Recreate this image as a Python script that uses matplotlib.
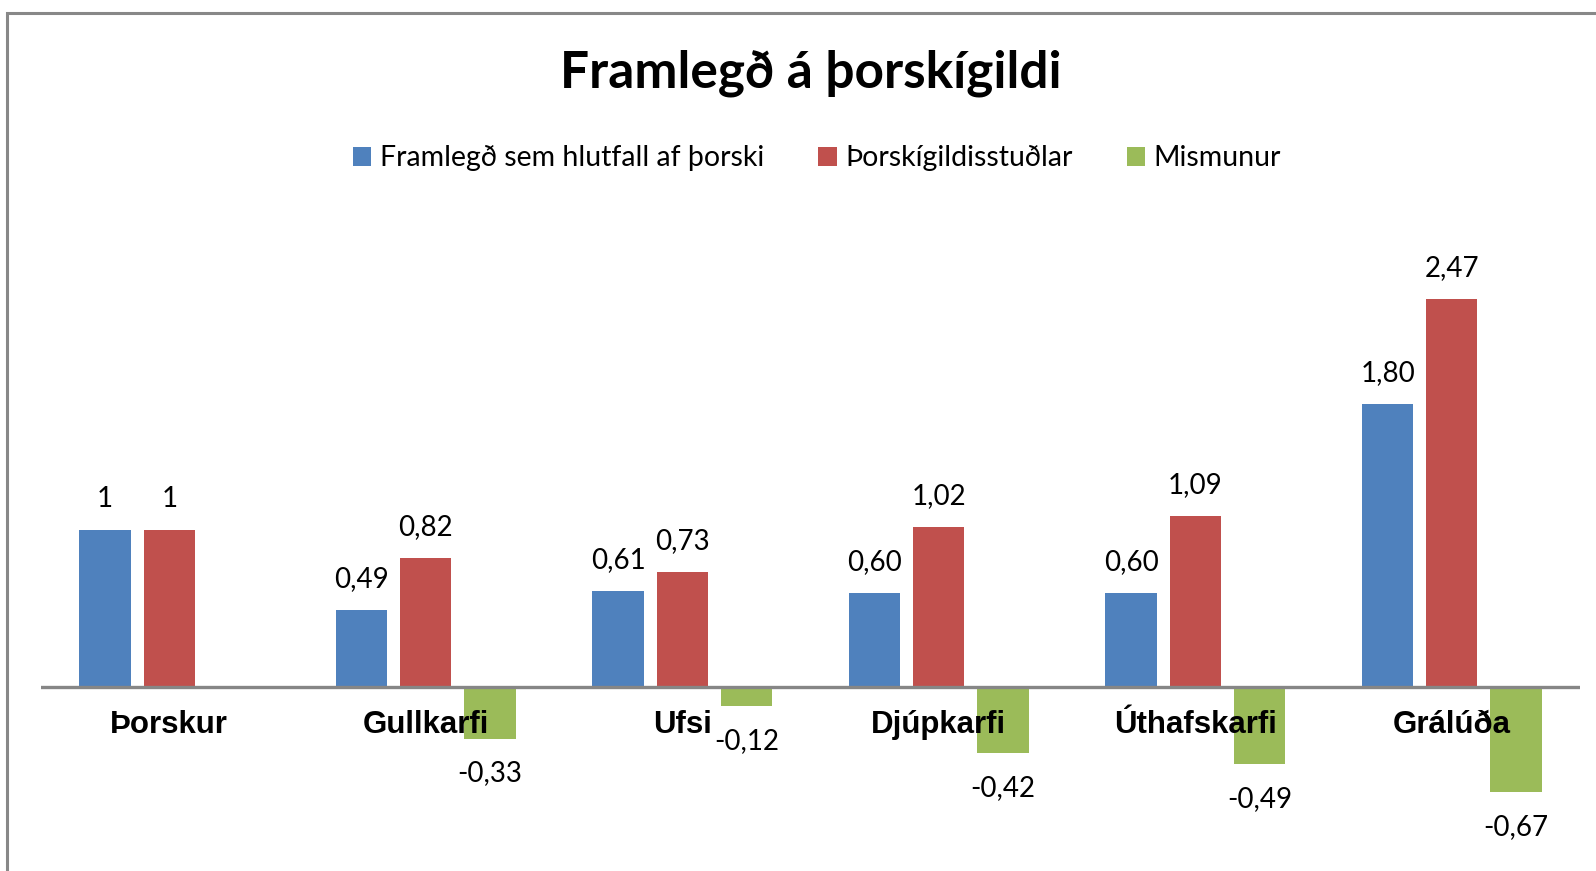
import matplotlib
matplotlib.use("Agg")
import matplotlib.pyplot as plt
import numpy as np
from matplotlib.patches import Patch, Rectangle

categories = ["Þorskur", "Gullkarfi", "Ufsi", "Djúpkarfi", "Úthafskarfi", "Grálúða"]
framlegd = [1.00, 0.49, 0.61, 0.60, 0.60, 1.80]
studlar = [1.00, 0.82, 0.73, 1.02, 1.09, 2.47]
mismunur = [0.00, -0.33, -0.12, -0.42, -0.49, -0.67]
series_names = ["Framlegð sem hlutfall af þorski", "Þorskígildisstuðlar", "Mismunur"]
colors = ["#4F81BD", "#C0504D", "#9BBB59"]

W, H = 1596, 871
DPI = 100


def fmt(v):
    if v == 1:
        return "1"
    return f"{v:.2f}".replace(".", ",")


def main() -> None:
    fig = plt.figure(figsize=(W / DPI, H / DPI), dpi=DPI)

    # chart border (cropped on the right and bottom in the original)
    fig.patches.append(Rectangle((7 / W, -0.1), 1.2, 1.1 - 13 / H,
                                 transform=fig.transFigure, fill=False,
                                 edgecolor="#888888", linewidth=2.2))

    # axes placed so that 0 sits at y=687px and 1 unit = 157px
    ax = fig.add_axes([41 / W, (H - 844) / H, 1539 / W, 628 / H])
    ax.set_xlim(-0.5, len(categories) - 0.5)
    ax.set_ylim(-1.0, 3.0)
    ax.axis("off")

    x = np.arange(len(categories))
    step, width = 0.25, 0.2
    label_font = dict(family="Lato", fontsize=20, color="black")

    for k, (vals, col) in enumerate(zip([framlegd, studlar, mismunur], colors)):
        xs = x + (k - 1) * step
        ax.bar(xs, vals, width=width, color=col, zorder=2)
        for xi, v in zip(xs, vals):
            if v == 0:
                continue
            off = 22.5 if v > 0 else -25
            ax.annotate(fmt(v), (xi, v), xytext=(0, off), textcoords="offset points",
                        ha="center", va="center", **label_font)

    ax.axhline(0, color="#868686", linewidth=2.4, zorder=3)

    for xi, name in zip(x, categories):
        ax.annotate(name, (xi, 0), xytext=(0, -27), textcoords="offset points",
                    ha="center", va="center", family="Liberation Sans",
                    fontweight="bold", fontsize=22.5, zorder=4)

    fig.text(811 / W, 1 - 73 / H, "Framlegð á þorskígildi", ha="center", va="center",
             family="Lato", fontweight="bold", fontsize=37)

    handles = [Patch(facecolor=c, edgecolor="none") for c in colors]
    fig.legend(handles, series_names, loc="center", bbox_to_anchor=(817 / W, 1 - 158 / H),
               ncol=3, frameon=False, prop=dict(family="Lato", size=20.5),
               handlelength=0.65, handleheight=0.65, handletextpad=0.3,
               columnspacing=1.9)

    fig.savefig("out.png", dpi=DPI)
    plt.close(fig)


if __name__ == "__main__":
    main()
